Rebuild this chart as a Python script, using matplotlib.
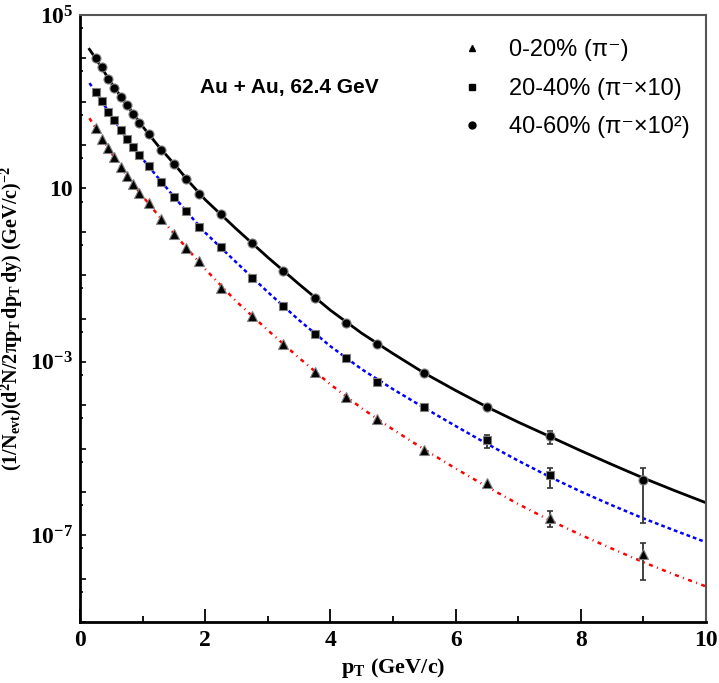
import numpy as np
import matplotlib
matplotlib.use("Agg")
import matplotlib.pyplot as plt
from matplotlib.lines import Line2D
from matplotlib.ticker import FixedLocator, FixedFormatter, NullFormatter

plt.rcParams['mathtext.fontset'] = 'custom'
plt.rcParams['mathtext.rm'] = 'Liberation Serif:bold'
plt.rcParams['mathtext.it'] = 'Liberation Serif:bold:italic'
plt.rcParams['mathtext.bf'] = 'Liberation Serif:bold'

# pT bin centres (GeV/c)
pt = [0.25, 0.35, 0.45, 0.55, 0.65, 0.75, 0.85, 0.95, 1.1, 1.3, 1.5, 1.7, 1.9,
      2.25, 2.75, 3.25, 3.75, 4.25, 4.75, 5.5, 6.5, 7.5, 9.0]

# 0-20% (pi-)
y_0_20 = [244, 138, 84.3, 53.1, 30.8, 19.4, 12.9, 7.98, 4.54, 1.97, 0.875, 0.430, 0.212,
          0.0498, 0.0114, 2.54e-3, 5.75e-4, 1.52e-4, 4.82e-5, 9.29e-6, 1.58e-6, 2.55e-7, 3.71e-8]
e_0_20 = [0]*21 + [1.0e-7, 2.8e-8]

# 20-40% (pi- x10), no point at 9 GeV/c
pt_20_40 = pt[:-1]
y_20_40 = [1.70e3, 1.04e3, 589, 373, 223, 138, 88.9, 58.6, 33.0, 13.9, 6.46, 3.02, 1.27,
           0.454, 0.0859, 0.0195, 4.40e-3, 1.23e-3, 3.49e-4, 8.95e-5, 1.55e-5, 2.42e-6]
e_20_40 = [0]*20 + [5.4e-6, 1.2e-6]

# 40-60% (pi- x100)
y_40_60 = [1.04e4, 6.22e3, 3.40e3, 2.10e3, 1.26e3, 826, 513, 328, 180, 78.2, 36.6, 16.8, 7.45,
           2.51, 0.543, 0.125, 0.0297, 8.02e-3, 2.58e-3, 5.46e-4, 9.10e-5, 1.95e-5, 1.89e-6]
e_40_60 = [0]*21 + [6.4e-6, 1.7e-6]

# fit curves
pt_fit = [0.15, 0.25, 0.5, 0.75, 1.0, 1.25, 1.5, 1.75, 2.0, 2.5, 3.0, 3.5, 4.0, 4.5,
          5.0, 5.5, 6.0, 6.5, 7.0, 7.5, 8.0, 8.5, 9.0, 9.5, 10.0]
fit_0_20 = [417, 245, 66.1, 19.5, 6.61, 2.40, 0.912, 0.355, 0.138, 0.0245, 5.37e-3, 1.23e-3,
            3.02e-4, 8.51e-5, 2.75e-5, 9.55e-6, 3.47e-6, 1.32e-6, 5.25e-7, 2.24e-7, 1.02e-7,
            4.90e-8, 2.40e-8, 1.23e-8, 6.61e-9]
fit_20_40 = [2.69e3, 1.70e3, 468, 138, 47.9, 17.4, 6.46, 2.45, 0.955, 0.195, 0.0407, 9.12e-3,
             2.29e-3, 6.76e-4, 2.34e-4, 8.71e-5, 3.31e-5, 1.29e-5, 5.25e-6, 2.24e-6, 1.02e-6,
             4.90e-7, 2.45e-7, 1.29e-7, 6.92e-8]
fit_40_60 = [1.62e4, 1.0e4, 2.69e3, 832, 269, 95.5, 37.2, 13.8, 5.50, 1.15, 0.257, 0.0617,
             0.0155, 4.57e-3, 1.55e-3, 5.50e-4, 2.19e-4, 9.12e-5, 4.07e-5, 1.91e-5, 8.91e-6,
             4.27e-6, 2.09e-6, 1.07e-6, 5.62e-7]

labels = ['0-20% (π⁻)', '20-40% (π⁻×10)', '40-60% (π⁻×10²)']
ytick_exp = list(range(-9, 6))
ytick_labels = {5: '$10^{5}$', 1: '10', -3: '$10^{-3}$', -7: '$10^{-7}$'}

fig = plt.figure(figsize=(7.19, 6.83), dpi=100)
ax = fig.add_axes([0.1113, 0.0893, 0.8707, 0.8887])

ax.plot(pt_fit, fit_40_60, color='black', lw=2.0, zorder=2)
ax.plot(pt_fit, fit_20_40, color='#0000ff', lw=1.8, ls=(0, (1.5, 1.2)), zorder=2)
ax.plot(pt_fit, fit_0_20, color='#ff0000', lw=1.8, ls=(0, (1.6, 1.8, 0.4, 1.8)), zorder=2)

for x, y, e, m, ms in [(pt, y_0_20, e_0_20, '^', 7),
                       (pt_20_40, y_20_40, e_20_40, 's', 6),
                       (pt, y_40_60, e_40_60, 'o', 6.5)]:
    xe = [a for a, b in zip(x, e) if b > 0]
    ye = [a for a, b in zip(y, e) if b > 0]
    ee = [b for b in e if b > 0]
    ax.errorbar(xe, ye, yerr=ee, fmt='none', ecolor='#333333', elinewidth=1.3,
                capsize=2.5, capthick=1.2, zorder=3)
    ax.plot(x, y, ls='none', marker=m, ms=ms, color='black', mec='#808080', mew=0.8, zorder=4)

ax.set_yscale('log')
ax.set_xlim(0, 10)
ax.set_ylim(1e-9, 1e5)

ax.yaxis.set_major_locator(FixedLocator([10.0**k for k in ytick_exp]))
ax.yaxis.set_major_formatter(FixedFormatter([ytick_labels.get(k, '') for k in ytick_exp]))
ax.yaxis.set_minor_locator(FixedLocator([5 * 10.0**k for k in range(-10, 5)]))
ax.yaxis.set_minor_formatter(NullFormatter())
ax.set_xticks([0, 2, 4, 6, 8, 10])
ax.set_xticks([1, 3, 5, 7, 9], minor=True)

ax.tick_params(which='both', direction='in', top=False, right=False)
ax.tick_params(axis='x', which='major', length=9.5, width=1.3, pad=6)
ax.tick_params(axis='x', which='minor', length=4.5, width=1.3)
ax.tick_params(axis='y', which='major', length=4, width=1.2, pad=5)
ax.tick_params(axis='y', which='minor', length=2, width=1.2)
for lab in ax.get_xticklabels() + ax.get_yticklabels():
    lab.set_fontfamily('Liberation Serif')
    lab.set_fontweight('bold')
    lab.set_fontsize(17)

for s in ['left', 'bottom']:
    ax.spines[s].set_linewidth(2.0)
    ax.spines[s].set_color('black')
for s in ['top', 'right']:
    ax.spines[s].set_linewidth(1.5)
    ax.spines[s].set_color('#555555')

ax.set_xlabel(r'$\mathrm{p_{T}\ (GeV/c)}$', fontsize=16, labelpad=3)
ax.set_ylabel(r'$\mathrm{(1/N_{evt})(d^{2}N/2\pi p_{T}\,dp_{T}\,dy)\ (GeV/c)^{-2}}$',
              fontsize=14.5)
ax.yaxis.set_label_coords(-0.088, 0.5)

ax.text(0.334, 0.880, 'Au + Au, 62.4 GeV', transform=ax.transAxes, ha='center', va='center',
        fontsize=15, fontweight='bold', family=['Liberation Sans', 'DejaVu Sans'])

handles = [Line2D([], [], ls='none', marker='^', ms=5, color='black'),
           Line2D([], [], ls='none', marker='s', ms=4.5, color='black'),
           Line2D([], [], ls='none', marker='o', ms=5, color='black')]
ax.legend(handles, labels, loc='upper left', bbox_to_anchor=(0.574, 0.995), frameon=False,
          handlelength=1.0, handletextpad=1.05, labelspacing=0.70,
          prop={'family': ['Liberation Sans', 'DejaVu Sans'], 'size': 17})

fig.savefig('out.png', dpi=100)
